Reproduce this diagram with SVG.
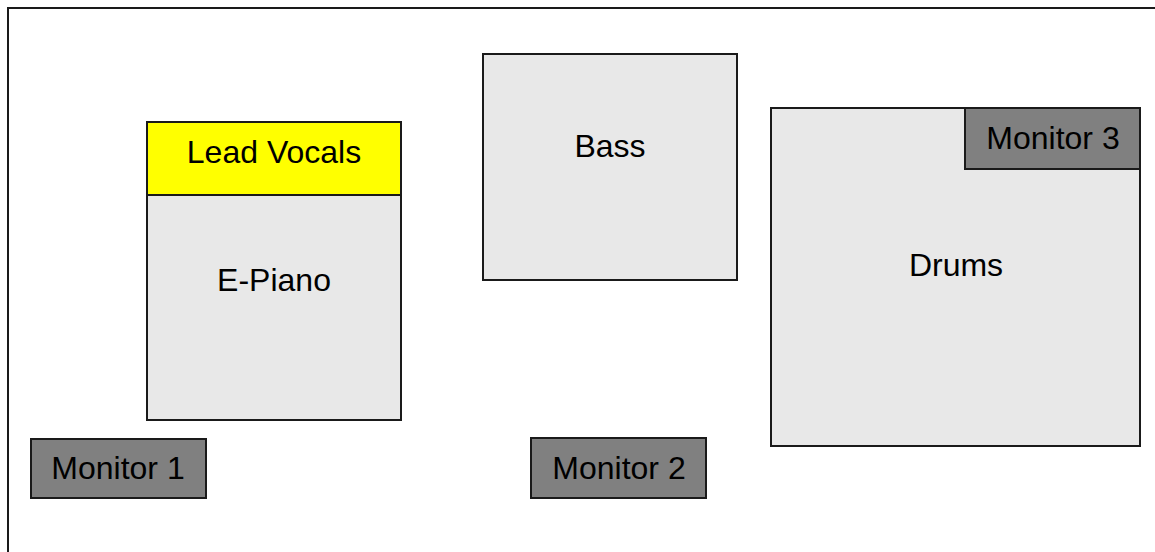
<svg xmlns="http://www.w3.org/2000/svg" width="1155" height="552" viewBox="0 0 1155 552">
<style>
.box{stroke:#1a1a1a;stroke-width:2}
.inst{fill:#e8e8e8}
.mon{fill:#808080}
.voc{fill:#ffff00}
text{font-family:"Liberation Sans",Arial,sans-serif;font-size:32px;fill:#000;text-anchor:middle}
</style>
<rect x="8" y="8" width="1160" height="560" fill="#fff" stroke="#1a1a1a" stroke-width="2"/>
<g id="epiano"><rect class="box inst" x="147" y="195" width="254" height="225"/><text x="274" y="291">E-Piano</text></g>
<g id="leadvocals"><rect class="box voc" x="147" y="122" width="254" height="73"/><text x="274" y="163">Lead Vocals</text></g>
<g id="bass"><rect class="box inst" x="483" y="54" width="254" height="226"/><text x="610" y="157">Bass</text></g>
<g id="drums"><rect class="box inst" x="771" y="108" width="369" height="338"/><text x="956" y="276">Drums</text></g>
<g id="monitor3"><rect class="box mon" x="965" y="108" width="175" height="61"/><text x="1053" y="149">Monitor 3</text></g>
<g id="monitor1"><rect class="box mon" x="31" y="439" width="175" height="59"/><text x="118" y="479">Monitor 1</text></g>
<g id="monitor2"><rect class="box mon" x="531" y="438" width="175" height="60"/><text x="619" y="479">Monitor 2</text></g>
<g id="connectors"/>
</svg>
